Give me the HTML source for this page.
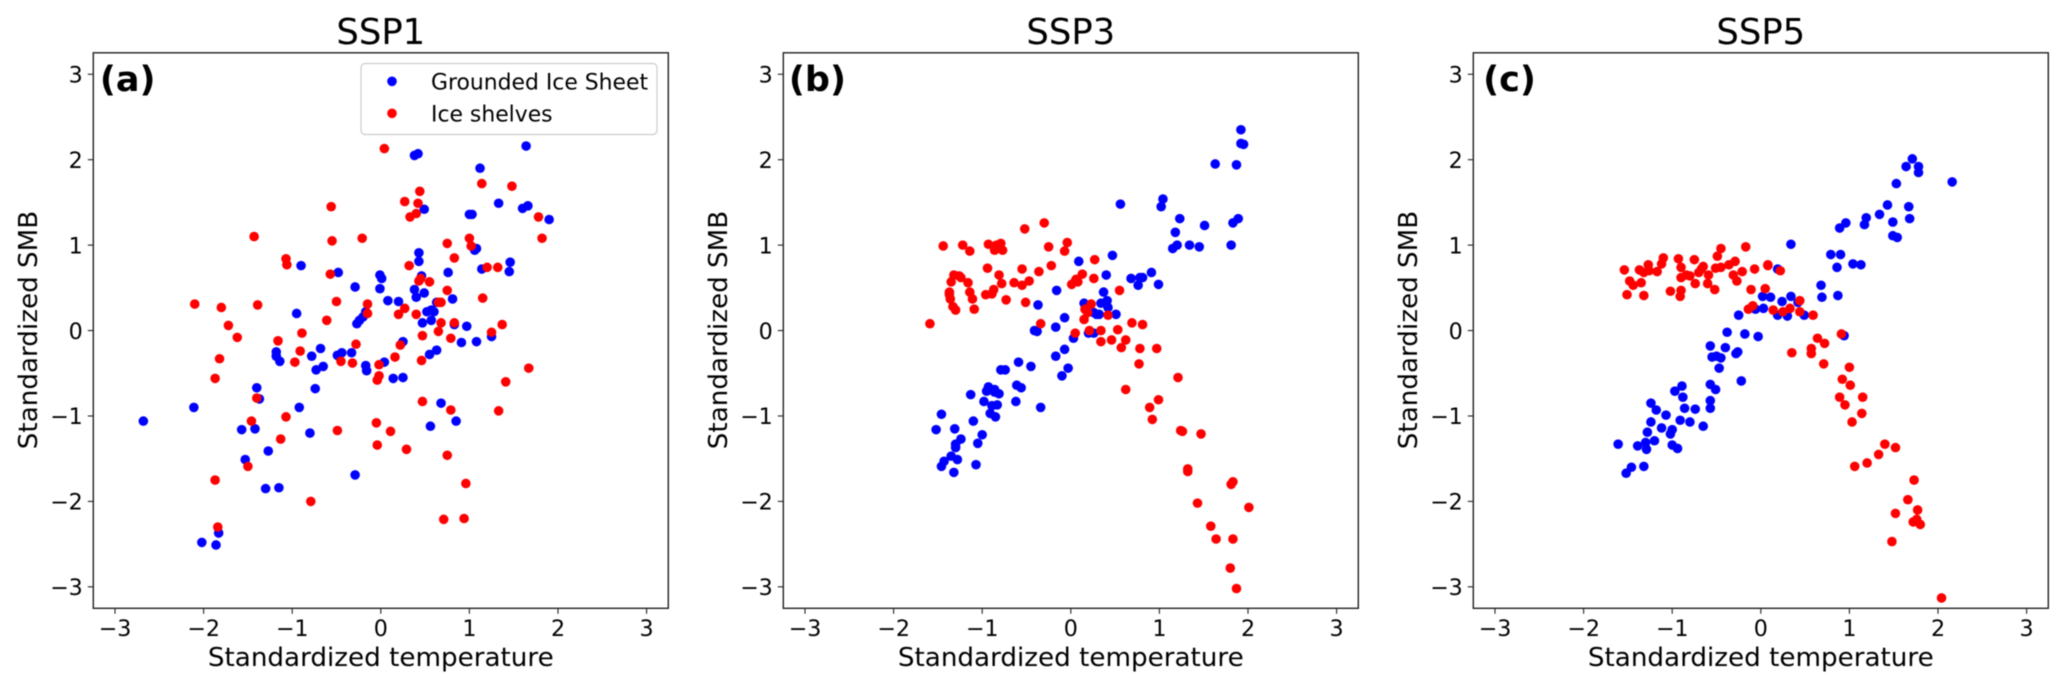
<!DOCTYPE html>
<html lang="en">
<head>
<meta charset="utf-8">
<title>Standardized SMB vs temperature</title>
<style>
html,body{margin:0;padding:0;background:#fff;width:2067px;height:690px;overflow:hidden}
svg{display:block;filter:blur(0.4px)}
text{font-family:"DejaVu Sans","Liberation Sans",sans-serif;fill:#000}
.tick{font-size:22.2px}
.axis{font-size:26.2px}
.title{font-size:35.4px}
.tag{font-size:35px;font-weight:bold}
.legend{font-size:21.9px}
</style>
</head>
<body>
<svg id="figure" xmlns="http://www.w3.org/2000/svg" width="2067" height="690" viewBox="0 0 2067 690">
  <g id="panel-0">
    <text class="title" x="380.8" y="44" text-anchor="middle">SSP1</text>
    <text class="axis" x="380.8" y="666" text-anchor="middle">Standardized temperature</text>
    <text class="axis" transform="translate(37 330) rotate(-90)" text-anchor="middle">Standardized SMB</text>
  </g>
  <g id="panel-1">
    <text class="title" x="1070.8" y="44" text-anchor="middle">SSP3</text>
    <text class="axis" x="1070.8" y="666" text-anchor="middle">Standardized temperature</text>
    <text class="axis" transform="translate(727 330) rotate(-90)" text-anchor="middle">Standardized SMB</text>
  </g>
  <g id="panel-2">
    <text class="title" x="1760.8" y="44" text-anchor="middle">SSP5</text>
    <text class="axis" x="1760.8" y="666" text-anchor="middle">Standardized temperature</text>
    <text class="axis" transform="translate(1417 330) rotate(-90)" text-anchor="middle">Standardized SMB</text>
  </g>
</svg>
<script>
const xTickValues = [-3, -2, -1, 0, 1, 2, 3];
const yTickValues = [-3, -2, -1, 0, 1, 2, 3];
const tickLabels = ["\u22123", "\u22122", "\u22121", "0", "1", "2", "3"];
const panelTags = ["(a)", "(b)", "(c)"];
const seriesNames = ["Grounded Ice Sheet", "Ice shelves"];

const ssp1Grounded = [[-2.68,-1.06],[-2.11,-0.90],[-2.02,-2.48],[-1.86,-2.51],[-1.83,-2.37],[-1.57,-1.16],[-1.53,-1.51],[-1.42,-1.15],[-1.40,-0.67],[-1.37,-0.80],[-1.30,-1.85],[-1.27,-1.41],[-1.15,-1.84],[-1.18,-0.25],[-1.18,-0.30],[-1.14,-0.36],[-0.95,0.20],[-0.92,-0.90],[-0.90,0.76],[-0.80,-1.20],[-0.78,-0.30],[-0.74,-0.68],[-0.73,-0.46],[-0.68,-0.21],[-0.65,-0.42],[-0.49,-0.29],[-0.44,-0.26],[-0.48,0.68],[-0.33,-0.26],[-0.29,0.51],[-0.29,-1.69],[-0.27,0.08],[-0.24,0.12],[-0.20,0.16],[-0.17,0.22],[-0.17,-0.41],[-0.16,-0.47],[-0.01,0.65],[0.01,0.61],[-0.01,0.49],[0.04,-0.37],[0.08,0.35],[0.14,-0.56],[0.20,0.34],[0.25,-0.55],[0.25,-0.13],[0.38,2.05],[0.42,2.07],[0.49,1.42],[0.43,0.91],[0.43,0.81],[0.46,0.64],[0.38,0.48],[0.40,0.39],[0.49,0.44],[0.52,0.22],[0.57,0.24],[0.60,0.22],[0.57,0.12],[0.47,0.09],[0.63,0.33],[0.55,-0.28],[0.63,-0.23],[0.68,-0.85],[0.56,-1.12],[0.85,-1.06],[0.76,0.68],[0.81,0.37],[0.83,0.07],[0.91,-0.14],[0.97,0.05],[1.08,-0.13],[1.25,-0.07],[1.00,1.36],[1.03,1.36],[1.06,0.94],[1.08,0.96],[1.14,0.72],[1.12,1.90],[1.33,1.49],[1.46,0.80],[1.45,0.69],[1.60,1.43],[1.66,1.46],[1.64,2.16],[1.90,1.30]];
const ssp1Shelves = [[-2.10,0.31],[-1.87,-0.56],[-1.87,-1.75],[-1.84,-2.30],[-1.82,-0.33],[-1.80,0.27],[-1.72,0.06],[-1.62,-0.08],[-1.50,-1.59],[-1.46,-1.06],[-1.43,1.10],[-1.40,-0.79],[-1.39,0.30],[-1.16,-0.12],[-1.13,-1.27],[-1.07,-1.01],[-1.07,0.84],[-1.06,0.77],[-0.97,-0.37],[-0.91,-0.24],[-0.89,-0.03],[-0.79,-2.00],[-0.61,0.12],[-0.57,0.66],[-0.56,1.45],[-0.55,1.05],[-0.50,0.34],[-0.49,-1.17],[-0.45,-0.36],[-0.32,-0.38],[-0.28,-0.16],[-0.21,1.08],[-0.15,0.31],[-0.15,0.20],[-0.05,-1.08],[-0.04,-1.34],[-0.04,-0.58],[-0.02,-0.53],[-0.02,-0.40],[0.04,2.13],[0.11,-1.18],[0.16,-0.31],[0.20,0.19],[0.22,-0.17],[0.27,0.26],[0.27,1.51],[0.29,-1.39],[0.32,0.76],[0.33,1.33],[0.40,1.37],[0.42,1.49],[0.44,1.63],[0.40,0.19],[0.43,0.58],[0.45,0.61],[0.46,-0.35],[0.47,-0.83],[0.47,-0.06],[0.55,0.57],[0.65,0.33],[0.68,0.33],[0.68,0.09],[0.65,-0.01],[0.71,-2.21],[0.75,1.02],[0.75,0.47],[0.75,-1.46],[0.79,-0.09],[0.79,-0.93],[0.83,0.85],[0.83,0.09],[0.94,-2.20],[0.96,-1.79],[1.00,1.08],[1.02,0.99],[1.14,1.72],[1.15,0.38],[1.20,0.74],[1.25,-0.02],[1.32,0.74],[1.33,-0.94],[1.37,0.07],[1.41,-0.60],[1.48,1.69],[1.67,-0.44],[1.78,1.33],[1.82,1.08]];

const ssp3Grounded = [[-1.52,-1.16],[-1.46,-1.59],[-1.46,-0.98],[-1.43,-1.53],[-1.35,-1.47],[-1.31,-1.15],[-1.32,-1.66],[-1.30,-1.33],[-1.30,-1.37],[-1.28,-1.51],[-1.24,-1.27],[-1.13,-0.75],[-1.10,-1.06],[-1.07,-1.57],[-1.05,-1.32],[-1.00,-1.22],[-0.98,-0.83],[-0.95,-0.71],[-0.93,-0.66],[-0.91,-0.97],[-0.89,-0.88],[-0.86,-0.69],[-0.86,-0.72],[-0.85,-1.01],[-0.83,-0.87],[-0.81,-0.74],[-0.79,-0.46],[-0.74,-0.46],[-0.62,-0.83],[-0.61,-0.64],[-0.59,-0.37],[-0.56,-0.67],[-0.45,-0.42],[-0.41,0.00],[-0.38,-0.01],[-0.37,0.30],[-0.34,-0.90],[-0.17,0.04],[-0.16,0.47],[-0.17,-0.30],[-0.10,-0.53],[-0.07,-0.22],[-0.07,0.15],[-0.03,-0.44],[0.03,-0.09],[0.09,0.81],[0.15,0.32],[0.20,-0.03],[0.26,0.21],[0.26,-0.03],[0.29,0.19],[0.32,0.19],[0.34,0.32],[0.37,0.45],[0.40,0.65],[0.41,0.35],[0.42,0.27],[0.47,0.88],[0.51,0.19],[0.56,1.48],[0.68,0.61],[0.76,0.53],[0.78,0.62],[0.81,0.62],[0.91,0.68],[0.99,0.54],[1.02,1.45],[1.04,1.54],[1.15,0.96],[1.18,1.15],[1.20,1.00],[1.23,1.31],[1.34,1.00],[1.45,0.98],[1.51,1.23],[1.63,1.95],[1.81,1.00],[1.83,1.26],[1.87,1.94],[1.89,1.31],[1.92,2.35],[1.92,2.19],[1.95,2.18]];
const ssp3Shelves = [[-1.59,0.08],[-1.44,0.99],[-1.37,0.45],[-1.37,0.42],[-1.36,0.37],[-1.35,0.57],[-1.33,0.28],[-1.32,0.65],[-1.30,0.24],[-1.26,0.64],[-1.24,0.62],[-1.22,1.00],[-1.16,0.56],[-1.14,0.93],[-1.14,0.45],[-1.11,0.37],[-1.09,0.25],[-0.96,0.42],[-0.94,0.73],[-0.93,1.01],[-0.89,0.43],[-0.87,0.48],[-0.86,0.94],[-0.84,1.00],[-0.81,0.65],[-0.79,1.02],[-0.78,0.55],[-0.77,0.94],[-0.73,0.36],[-0.64,0.56],[-0.55,0.72],[-0.55,0.53],[-0.52,1.19],[-0.51,0.33],[-0.47,0.58],[-0.36,0.69],[-0.34,0.08],[-0.30,1.26],[-0.25,0.98],[-0.22,0.76],[-0.07,0.93],[-0.04,1.03],[0.01,0.54],[0.05,0.58],[0.05,-0.03],[0.06,0.60],[0.08,0.57],[0.13,0.66],[0.15,0.13],[0.16,0.25],[0.19,0.21],[0.21,0.00],[0.23,0.31],[0.26,0.61],[0.27,0.83],[0.34,0.00],[0.34,-0.13],[0.42,0.18],[0.46,-0.11],[0.53,0.01],[0.55,0.47],[0.57,-0.20],[0.62,-0.11],[0.62,-0.69],[0.69,0.09],[0.77,-0.39],[0.78,-0.21],[0.81,0.07],[0.89,-0.90],[0.92,-1.04],[0.97,-0.21],[0.99,-0.81],[1.21,-0.55],[1.24,-1.17],[1.26,-1.18],[1.32,-1.62],[1.32,-1.65],[1.43,-2.02],[1.47,-1.21],[1.58,-2.29],[1.64,-2.44],[1.80,-2.78],[1.81,-1.80],[1.83,-1.77],[1.83,-2.44],[1.87,-3.02],[2.01,-2.07]];

const ssp5Grounded = [[-1.61,-1.33],[-1.52,-1.67],[-1.46,-1.60],[-1.39,-1.35],[-1.32,-1.59],[-1.30,-1.31],[-1.28,-1.19],[-1.29,-1.39],[-1.24,-1.07],[-1.24,-0.85],[-1.20,-1.29],[-1.18,-0.93],[-1.12,-1.14],[-1.07,-0.99],[-1.02,-1.21],[-1.00,-1.16],[-1.00,-1.34],[-0.97,-0.71],[-0.94,-1.38],[-0.91,-1.05],[-0.89,-0.65],[-0.88,-0.78],[-0.86,-0.91],[-0.80,-1.07],[-0.74,-0.92],[-0.65,-1.12],[-0.57,-0.82],[-0.57,-0.91],[-0.57,-0.63],[-0.51,-0.69],[-0.57,-0.18],[-0.55,-0.31],[-0.50,-0.30],[-0.45,-0.32],[-0.47,-0.44],[-0.40,-0.20],[-0.38,-0.02],[-0.28,-0.27],[-0.26,-0.25],[-0.25,0.18],[-0.22,-0.59],[-0.18,-0.04],[-0.06,0.25],[-0.03,-0.07],[0.02,0.40],[0.03,0.26],[0.11,0.39],[0.19,0.72],[0.19,0.18],[0.24,0.34],[0.30,0.17],[0.34,1.01],[0.34,0.40],[0.42,0.33],[0.49,0.18],[0.68,0.53],[0.69,0.39],[0.79,0.89],[0.86,0.74],[0.87,0.41],[0.89,1.20],[0.90,0.89],[0.94,-0.06],[0.96,1.26],[1.04,0.78],[1.13,0.77],[1.17,1.24],[1.19,1.32],[1.34,1.36],[1.43,1.47],[1.49,1.27],[1.49,1.11],[1.54,1.09],[1.53,1.72],[1.64,1.92],[1.67,1.45],[1.68,1.31],[1.71,2.01],[1.78,1.92],[1.78,1.85],[2.16,1.74]];
const ssp5Shelves = [[-1.54,0.71],[-1.51,0.42],[-1.48,0.58],[-1.44,0.53],[-1.37,0.71],[-1.35,0.56],[-1.32,0.41],[-1.32,0.68],[-1.27,0.77],[-1.26,0.70],[-1.17,0.69],[-1.12,0.78],[-1.10,0.85],[-1.02,0.46],[-0.93,0.84],[-0.91,0.40],[-0.90,0.47],[-0.90,0.74],[-0.90,0.62],[-0.84,0.65],[-0.80,0.64],[-0.75,0.83],[-0.74,0.55],[-0.70,0.68],[-0.67,0.72],[-0.65,0.75],[-0.60,0.55],[-0.59,0.65],[-0.52,0.48],[-0.51,0.73],[-0.49,0.87],[-0.45,0.74],[-0.45,0.96],[-0.36,0.77],[-0.31,0.65],[-0.29,0.81],[-0.27,0.58],[-0.21,0.69],[-0.17,0.98],[-0.14,0.25],[-0.11,0.48],[-0.09,0.29],[-0.07,0.72],[0.05,0.49],[0.08,0.77],[0.08,0.76],[0.14,0.24],[0.22,0.70],[0.25,0.22],[0.33,0.26],[0.35,-0.26],[0.44,0.35],[0.44,0.22],[0.59,0.18],[0.57,-0.21],[0.57,-0.27],[0.64,-0.09],[0.71,-0.39],[0.72,-0.15],[0.89,-0.78],[0.91,-0.04],[0.92,-0.57],[0.95,-0.87],[1.00,-0.43],[1.01,-0.64],[1.03,-1.07],[1.06,-1.59],[1.14,-0.97],[1.15,-0.78],[1.20,-1.55],[1.33,-1.45],[1.40,-1.33],[1.48,-2.47],[1.52,-1.37],[1.52,-2.14],[1.66,-1.98],[1.72,-2.24],[1.73,-1.75],[1.76,-2.21],[1.77,-2.10],[1.80,-2.27],[2.04,-3.13]];

const panelSeries = [[ssp1Grounded, ssp1Shelves], [ssp3Grounded, ssp3Shelves], [ssp5Grounded, ssp5Shelves]];
const panelKeys = ["ssp1", "ssp3", "ssp5"];
const seriesKeys = ["grounded", "shelf"];
const seriesColors = ["#0000ff", "#ff0000"];

const SVG_NS = "http://www.w3.org/2000/svg";
const PANEL_STEP = 690;
const AX_LEFT = 93.3, AX_TOP = 52.8, AX_W = 575, AX_H = 555.5;
const X_UNIT = 88.6, Y_UNIT = 85.43;
const MARKER_R = 4.8;
const TAG_OFFSETS = [6.6, 5.6, 9.8];

function xScale(v, panel) {
  return AX_LEFT + panel * PANEL_STEP + AX_W / 2 + v * X_UNIT;
}
function yScale(v) {
  return AX_TOP + AX_H / 2 - v * Y_UNIT;
}
function make(tag, parent, attrs) {
  const el = document.createElementNS(SVG_NS, tag);
  for (const k in attrs) el.setAttribute(k, attrs[k]);
  parent.appendChild(el);
  return el;
}

panelSeries.forEach(function (series, p) {
  const g = document.getElementById("panel-" + p);
  const key = panelKeys[p];

  series.forEach(function (points, s) {
    const layer = make("g", g, { fill: seriesColors[s] });
    
    
    points.forEach(function (pt) {
      const dot = make("circle", layer, { cx: xScale(pt[0], p), cy: yScale(pt[1]), r: MARKER_R });
      
      
    });
  });

  const frame = make("rect", g, { x: AX_LEFT + p * PANEL_STEP, y: AX_TOP, width: AX_W, height: AX_H, fill: "none", stroke: "#222", "stroke-width": 1.4 });
  
  

  xTickValues.forEach(function (v, i) {
    const x = xScale(v, p);
    const bottom = AX_TOP + AX_H;
    const tick = make("line", g, { x1: x, x2: x, y1: bottom, y2: bottom + 5.5, stroke: "#222", "stroke-width": 1.1 });
    
    
    const label = make("text", g, { class: "tick", x: x, y: 636, "text-anchor": "middle" });
    label.textContent = tickLabels[i];
    
    
  });

  yTickValues.forEach(function (v, i) {
    const y = yScale(v);
    const left = AX_LEFT + p * PANEL_STEP;
    const tick = make("line", g, { x1: left - 5.5, x2: left, y1: y, y2: y, stroke: "#222", "stroke-width": 1.1 });
    
    
    const label = make("text", g, { class: "tick", x: left - 10.5, y: y + 8.2, "text-anchor": "end" });
    label.textContent = tickLabels[i];
    
    
  });

  const tag = make("text", g, { class: "tag", x: AX_LEFT + p * PANEL_STEP + TAG_OFFSETS[p], y: 91 });
  tag.textContent = panelTags[p];
  
  
});

const legendParent = document.getElementById("panel-0");
const legend = make("g", legendParent, {});


const legendBox = make("rect", legend, { x: 361, y: 63.5, width: 296, height: 71, rx: 4, ry: 4, fill: "#fff", "fill-opacity": 0.8, stroke: "#ccc", "stroke-width": 1.2 });


seriesNames.forEach(function (name, s) {
  const rowY = 81.3 + s * 32;
  const swatch = make("circle", legend, { cx: 392, cy: rowY, r: MARKER_R, fill: seriesColors[s] });
  
  
  const label = make("text", legend, { class: "legend", x: 431, y: rowY + 8 });
  label.textContent = name;
  
  
});
</script>
</body>
</html>
